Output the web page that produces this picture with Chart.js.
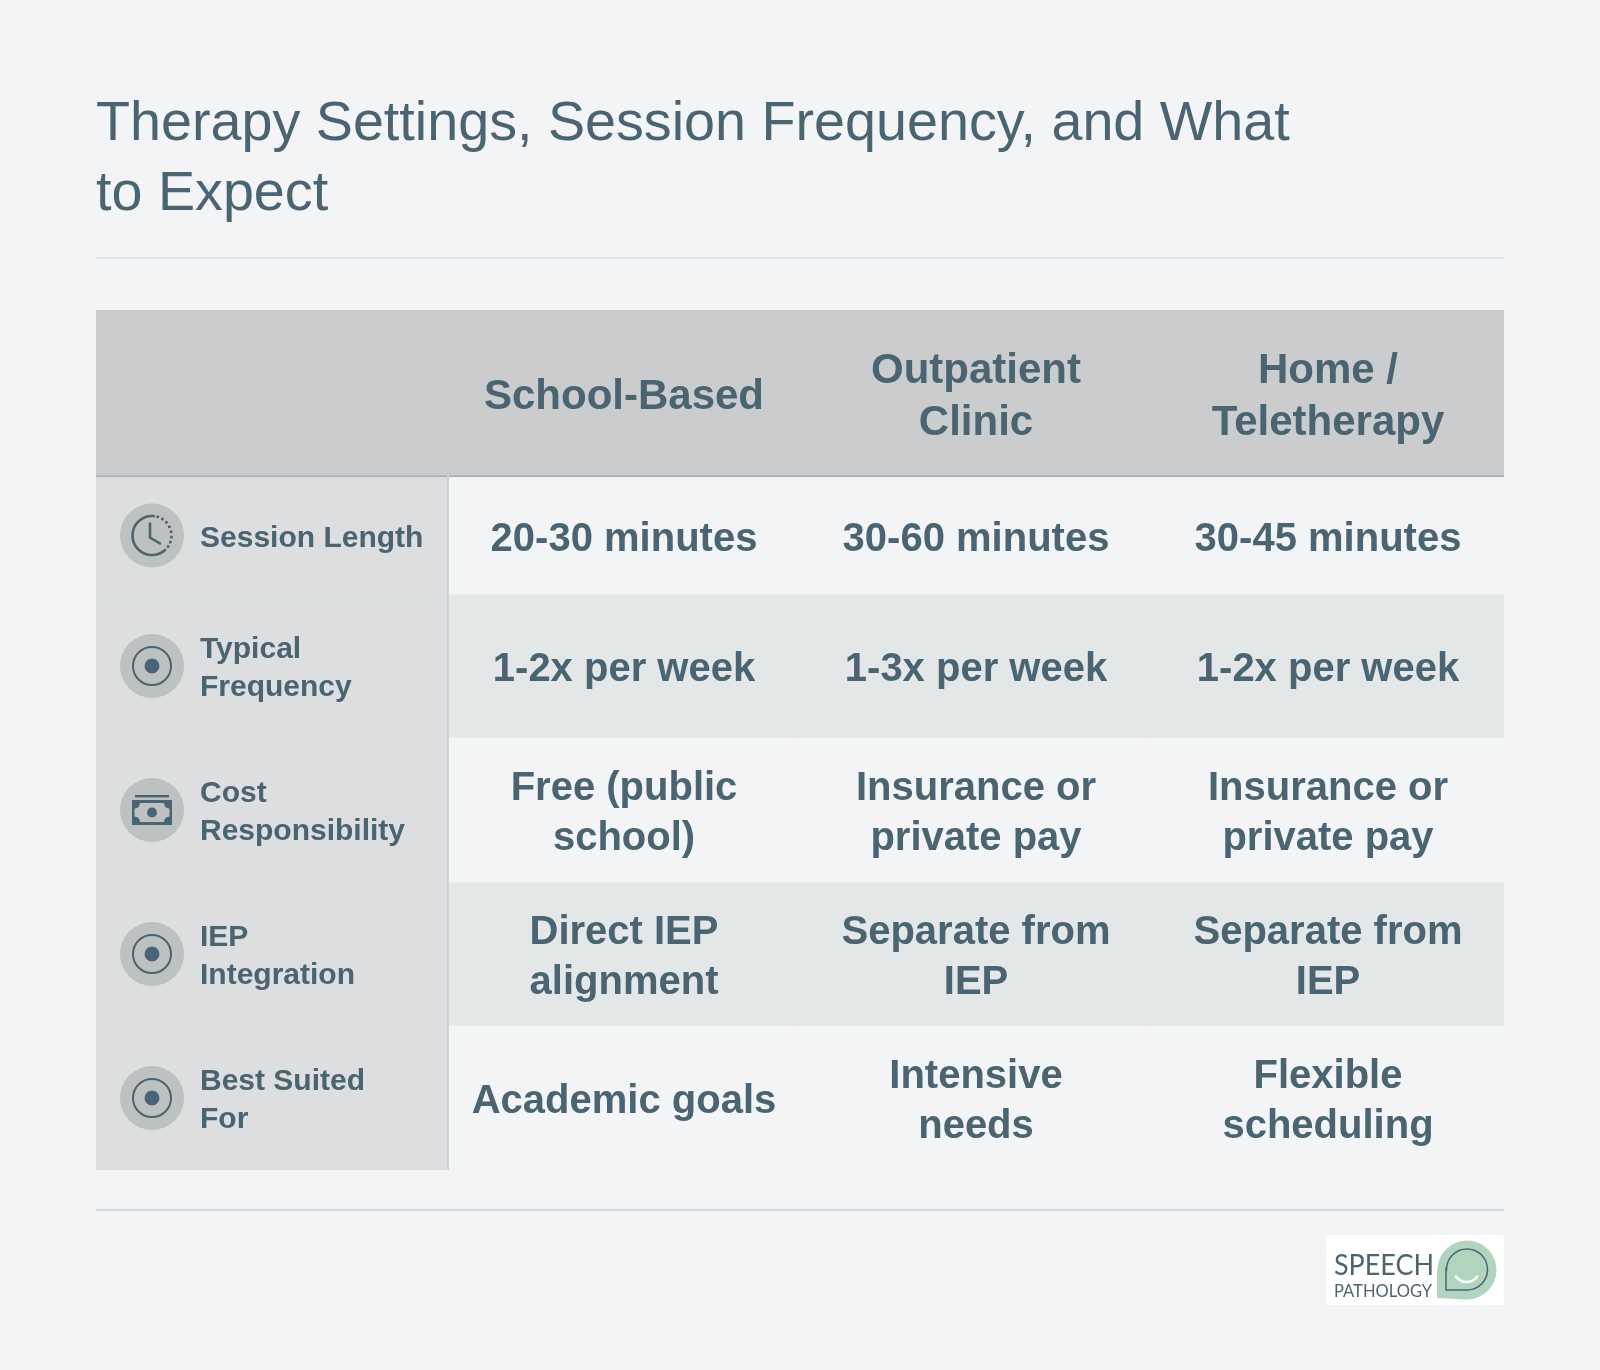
<!DOCTYPE html>
<html>
<head>
<meta charset="utf-8">
<title>Therapy Settings</title>
<script src="https://cdn.jsdelivr.net/npm/chart.js@4"></script>
<style>
  html, body { margin: 0; padding: 0; background: #f3f4f6; }
  canvas { display: block; }
</style>
</head>
<body>
<canvas id="table-chart" width="1600" height="1370"></canvas>
<script>
// Table content
const titleLines = ['Therapy Settings, Session Frequency, and What', 'to Expect'];
const settings = ['School-Based', 'Outpatient\nClinic', 'Home /\nTeletherapy'];
const measures = ['Session Length', 'Typical\nFrequency', 'Cost\nResponsibility', 'IEP\nIntegration', 'Best Suited\nFor'];
const measureIcons = ['clock', 'target', 'money', 'target', 'target'];
const schoolBased = ['20-30 minutes', '1-2x per week', 'Free (public\nschool)', 'Direct IEP\nalignment', 'Academic goals'];
const outpatientClinic = ['30-60 minutes', '1-3x per week', 'Insurance or\nprivate pay', 'Separate from\nIEP', 'Intensive\nneeds'];
const homeTeletherapy = ['30-45 minutes', '1-2x per week', 'Insurance or\nprivate pay', 'Separate from\nIEP', 'Flexible\nscheduling'];

// Colours and row heights, the y scale runs 1:1 with the canvas
const TEXT = '#4a6472';
const FONT = '"Liberation Sans", Arial, sans-serif';
const rowSpans = [167, 117, 144, 144, 144, 144];
const rowFills = ['#cbcccd', '#f3f4f6', '#e4e7e8', '#f3f4f6', '#e4e7e8', '#f3f4f6'];

const columnValues = [measures, schoolBased, outpatientClinic, homeTeletherapy];

function cellText(rowIndex, colIndex) {
    if (rowIndex === 0) return colIndex === 0 ? '' : settings[colIndex - 1];
    return columnValues[colIndex][rowIndex - 1];
}

const datasets = rowSpans.map((span, rowIndex) => ({
    label: rowIndex === 0 ? 'Header' : measures[rowIndex - 1].replace('\n', ' '),
    data: columnValues.map(() => span),
    backgroundColor: columnValues.map((c, colIndex) => (rowIndex > 0 && colIndex === 0) ? '#dcdee0' : rowFills[rowIndex]),
    borderColor: columnValues.map((c, colIndex) => {
        if (rowIndex === 0) return '#a6b4bf';
        return colIndex === 0 ? '#dfe1e3' : '#ebedef';
    }),
    borderWidth: columnValues.map((c, colIndex) => {
        if (rowIndex === 0) return { top: 0, right: 0, bottom: 2, left: 0 };
        if (colIndex === 0) return rowIndex > 1 ? { top: 1, right: 0, bottom: 0, left: 0 } : 0;
        return rowIndex % 2 === 0 ? { top: 1, right: 0, bottom: 1, left: 0 } : 0;
    }),
    borderSkipped: false,
    barPercentage: 1,
    categoryPercentage: 1
}));

function drawTextLines(ctx, text, x, y, lineHeight) {
    const lines = text.split('\n');
    lines.forEach((line, i) => {
        ctx.fillText(line, x, y + (i - (lines.length - 1) / 2) * lineHeight);
    });
}

function drawTarget(ctx, x, y) {
    ctx.beginPath();
    ctx.arc(x, y, 19, 0, Math.PI * 2);
    ctx.stroke();
    ctx.beginPath();
    ctx.arc(x, y, 7.5, 0, Math.PI * 2);
    ctx.fill();
}

function drawClock(ctx, x, y) {
    const deg = Math.PI / 180;
    ctx.save();
    ctx.lineWidth = 2.6;
    ctx.lineCap = 'round';
    ctx.beginPath();
    ctx.arc(x, y, 19.5, 48 * deg, 275 * deg);
    ctx.stroke();
    ctx.setLineDash([0, 5.2]);
    ctx.lineWidth = 3;
    ctx.beginPath();
    ctx.arc(x, y, 19.5, 287 * deg, 405 * deg);
    ctx.stroke();
    ctx.setLineDash([]);
    ctx.lineWidth = 2.6;
    ctx.beginPath();
    ctx.moveTo(x - 2, y - 12);
    ctx.lineTo(x - 2, y + 2);
    ctx.lineTo(x + 8, y + 8);
    ctx.stroke();
    ctx.restore();
}

function drawMoney(ctx, x, y, circleFill) {
    const left = x - 17.5, right = x + 17.5, top = y - 7, bottom = y + 12, r = 5.5;
    ctx.fillRect(x - 17, y - 15, 34, 2.4);
    ctx.fillRect(x - 20, y - 10, 40, 25);
    ctx.fillStyle = circleFill;
    ctx.beginPath();
    ctx.moveTo(left + r, top);
    ctx.lineTo(right - r, top);
    ctx.arc(right, top, r, Math.PI, Math.PI / 2, true);
    ctx.lineTo(right, bottom - r);
    ctx.arc(right, bottom, r, -Math.PI / 2, Math.PI, true);
    ctx.lineTo(left + r, bottom);
    ctx.arc(left, bottom, r, 0, -Math.PI / 2, true);
    ctx.lineTo(left, top + r);
    ctx.arc(left, top, r, Math.PI / 2, 0, true);
    ctx.closePath();
    ctx.fill();
    ctx.fillStyle = TEXT;
    ctx.beginPath();
    ctx.arc(x, y + 2.5, 5, 0, Math.PI * 2);
    ctx.fill();
}

function drawLogo(ctx) {
    ctx.fillStyle = '#ffffff';
    ctx.fillRect(1326, 1235, 178, 70);
    // green bubble with its square corner bottom left
    ctx.fillStyle = '#b0d4bd';
    ctx.beginPath();
    ctx.moveTo(1437, 1298);
    ctx.lineTo(1437, 1270);
    ctx.arc(1467, 1270, 29.5, Math.PI, Math.PI / 2);
    ctx.closePath();
    ctx.fill();
    ctx.strokeStyle = TEXT;
    ctx.lineWidth = 1.5;
    ctx.beginPath();
    ctx.moveTo(1446, 1290);
    ctx.lineTo(1446, 1269);
    ctx.arc(1467, 1269.5, 20.5, Math.PI, Math.PI / 2);
    ctx.closePath();
    ctx.stroke();
    ctx.strokeStyle = '#ffffff';
    ctx.lineWidth = 2.5;
    ctx.beginPath();
    ctx.arc(1466.5, 1268.8, 13.2, Math.PI * 0.17, Math.PI * 0.83);
    ctx.stroke();
    ctx.fillStyle = TEXT;
    ctx.textAlign = 'left';
    ctx.textBaseline = 'alphabetic';
    ctx.font = '400 29px Lato, sans-serif';
    ctx.fillText('SPEECH', 1334, 1275, 100);
    ctx.font = '400 17px Lato, sans-serif';
    ctx.fillText('PATHOLOGY', 1334, 1297, 98);
}

const tablePlugin = {
    id: 'tablePlugin',
    afterDatasetsDraw(chart) {
        const ctx = chart.ctx;
        ctx.save();
        ctx.textAlign = 'center';
        ctx.textBaseline = 'middle';
        ctx.fillStyle = TEXT;
        ctx.strokeStyle = TEXT;

        // divider right of the row labels, from the header line down
        const headerBar = chart.getDatasetMeta(0).data[0];
        const dividerX = headerBar.x + headerBar.width / 2 - 1;
        ctx.fillStyle = '#d0d3d6';
        ctx.fillRect(dividerX, chart.chartArea.top + rowSpans[0] - 2, 2, chart.chartArea.height - rowSpans[0] + 2);
        ctx.fillStyle = TEXT;

        rowSpans.forEach((span, rowIndex) => {
            const bars = chart.getDatasetMeta(rowIndex).data;
            columnValues.forEach((c, colIndex) => {
                const text = cellText(rowIndex, colIndex);
                if (!text) return;
                const bar = bars[colIndex];
                const centerY = (bar.y + bar.base) / 2;
                if (colIndex === 0) {
                    // row label with its icon circle
                    const iconX = bar.x - 120;
                    ctx.fillStyle = '#bdc1c2';
                    ctx.beginPath();
                    ctx.arc(iconX, centerY, 32, 0, Math.PI * 2);
                    ctx.fill();
                    ctx.fillStyle = TEXT;
                    ctx.lineWidth = 2;
                    const icon = measureIcons[rowIndex - 1];
                    if (icon === 'clock') drawClock(ctx, iconX, centerY);
                    else if (icon === 'money') drawMoney(ctx, iconX, centerY, '#bdc1c2');
                    else drawTarget(ctx, iconX, centerY);
                    ctx.textAlign = 'left';
                    ctx.font = 'bold 30px ' + FONT;
                    drawTextLines(ctx, text, iconX + 48, centerY + 3, 38);
                    ctx.textAlign = 'center';
                } else if (rowIndex === 0) {
                    ctx.font = 'bold 42px ' + FONT;
                    drawTextLines(ctx, text, bar.x, centerY + 4, 52);
                } else {
                    ctx.font = 'bold 40px ' + FONT;
                    drawTextLines(ctx, text, bar.x, centerY + 4, 50);
                }
            });
        });
        ctx.restore();
    },
    afterDraw(chart) {
        const ctx = chart.ctx;
        ctx.save();
        // rules above and below the table
        ctx.fillStyle = '#e1e4e7';
        ctx.fillRect(96, 257, 1408, 2);
        ctx.fillStyle = '#d3d8dc';
        ctx.fillRect(96, 1209, 1408, 2);
        drawLogo(ctx);
        ctx.restore();
    }
};

new Chart(document.getElementById('table-chart'), {
    type: 'bar',
    data: { labels: columnValues.map((c, i) => i === 0 ? 'Measure' : settings[i - 1].replace('\n', ' ')), datasets: datasets },
    options: {
        responsive: false,
        animation: false,
        events: [],
        layout: { padding: { left: 96, right: 96, top: 90, bottom: 200 } },
        scales: {
            x: { stacked: true, display: false },
            y: { stacked: true, display: false, reverse: true, min: 0, max: rowSpans.reduce((a, b) => a + b, 0) }
        },
        plugins: {
            legend: { display: false },
            tooltip: { enabled: false },
            title: {
                display: true,
                text: titleLines,
                align: 'start',
                color: TEXT,
                font: { family: FONT, size: 55.7, weight: 'normal', lineHeight: '70px' },
                padding: { top: 0, bottom: 80 }
            }
        }
    },
    plugins: [tablePlugin]
});
</script>
</body>
</html>
